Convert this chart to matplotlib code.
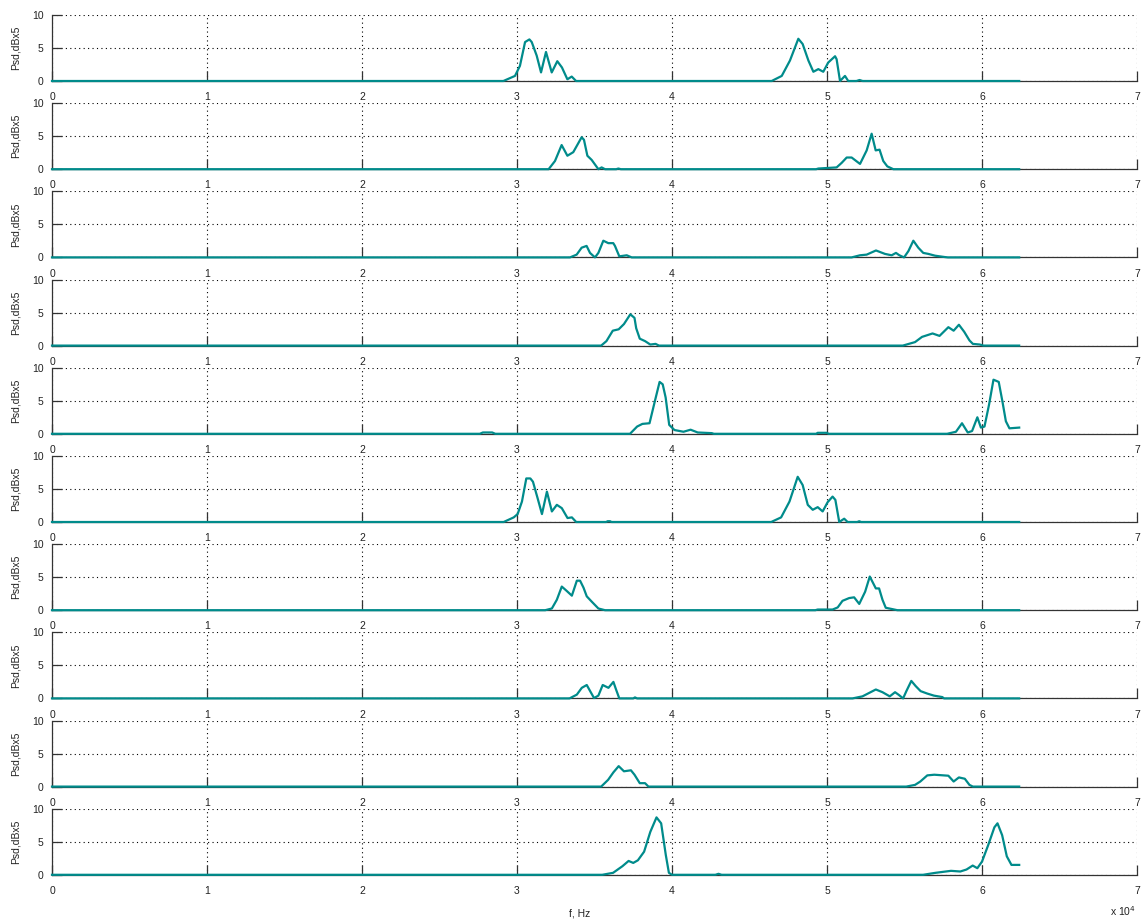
import matplotlib
matplotlib.use("Agg")
import matplotlib.pyplot as plt

# Frequency axis in units of 1e4 Hz; PSD values in dB x5.
f_max = 6.24

panel1_f = [0.0, 2.912, 2.987, 3.019, 3.052, 3.08, 3.095, 3.127, 3.155, 3.187, 3.224, 3.26, 3.29, 3.325, 3.353, 3.381,
            4.643, 4.708, 4.761, 4.815, 4.843, 4.88, 4.912, 4.944, 4.976, 5.008, 5.052, 5.062, 5.084, 5.116, 5.137,
            5.19, 5.21, 5.23, f_max]
panel1_psd = [0, 0, 0.77, 2.3, 5.9, 6.3, 5.9, 3.85, 1.3, 4.4, 1.3, 3.0, 2.05, 0.26, 0.67, 0,
              0, 0.77, 3.1, 6.4, 5.6, 3.1, 1.4, 1.8, 1.4, 2.8, 3.75, 3.3, 0, 0.77, 0,
              0, 0.15, 0, 0]

panel2_f = [0.0, 3.204, 3.245, 3.288, 3.325, 3.363, 3.417, 3.432, 3.454, 3.482, 3.525, 3.546, 3.568, 3.64, 3.654, 3.67,
            4.93, 4.944, 5.062, 5.095, 5.127, 5.159, 5.213, 5.256, 5.288, 5.314, 5.339, 5.363, 5.389, 5.428, f_max]
panel2_psd = [0, 0, 1.24, 3.66, 2.04, 2.58, 4.84, 4.46, 2.04, 1.4, 0, 0.27, 0, 0, 0.1, 0,
              0, 0.1, 0.27, 0.97, 1.77, 1.77, 0.8, 2.85, 5.38, 2.85, 2.96, 1.24, 0.43, 0, 0]

panel3_f = [0.0, 3.342, 3.385, 3.417, 3.449, 3.471, 3.503, 3.525, 3.557, 3.589, 3.621, 3.632, 3.66, 3.708, 3.74,
            5.159, 5.213, 5.256, 5.316, 5.374, 5.417, 5.445, 5.467, 5.497, 5.525, 5.557, 5.589, 5.621, 5.654,
            5.697, 5.761, 5.78, f_max]
panel3_psd = [0, 0, 0.42, 1.47, 1.74, 0.68, 0, 0.68, 2.53, 2.16, 2.16, 1.74, 0.16, 0.32, 0,
              0, 0.32, 0.42, 1.05, 0.53, 0.32, 0.68, 0.32, 0, 0.95, 2.53, 1.47, 0.68, 0.53,
              0.26, 0.05, 0, 0]

panel4_f = [0.0, 3.543, 3.577, 3.618, 3.656, 3.69, 3.731, 3.758, 3.769, 3.792, 3.826, 3.86, 3.894, 3.916,
            5.489, 5.568, 5.613, 5.681, 5.726, 5.783, 5.817, 5.851, 5.885, 5.919, 5.941, 5.986, 6.009, f_max]
panel4_psd = [0, 0, 0.68, 2.26, 2.47, 3.26, 4.74, 4.2, 2.63, 1.05, 0.68, 0.16, 0.26, 0,
              0, 0.53, 1.32, 1.84, 1.47, 2.79, 2.26, 3.16, 2.1, 0.79, 0.26, 0.16, 0, 0]

panel5_f = [0.0, 2.76, 2.78, 2.84, 2.86, 3.729, 3.775, 3.809, 3.855, 3.89, 3.92, 3.94, 3.959, 3.982, 4.016, 4.074,
            4.12, 4.166, 4.257, 4.27, 4.93, 4.94, 5.0, 5.01,
            5.775, 5.832, 5.871, 5.908, 5.936, 5.97, 5.993, 6.016, 6.046, 6.074, 6.108, 6.131, 6.154,
            6.177, f_max]
panel5_psd = [0, 0, 0.2, 0.2, 0, 0, 1.1, 1.5, 1.6, 5.0, 7.86, 7.5, 5.5, 1.35, 0.57, 0.31,
              0.62, 0.2, 0.1, 0, 0, 0.15, 0.15, 0,
              0, 0.31, 1.6, 0.2, 0.42, 2.5, 0.94, 1.1, 4.48, 8.2, 7.86, 5.0, 1.9,
              0.83, 0.94]

panel6_f = [0.0, 2.914, 2.979, 3.004, 3.032, 3.06, 3.086, 3.103, 3.133, 3.161, 3.193, 3.225, 3.257, 3.289, 3.326,
            3.354, 3.382, 3.575, 3.585, 3.6, 3.61,
            4.64, 4.704, 4.758, 4.811, 4.843, 4.876, 4.908, 4.94, 4.972, 5.004, 5.036, 5.054, 5.079, 5.111,
            5.133, 5.195, 5.208, 5.22, f_max]
panel6_psd = [0, 0, 0.7, 1.2, 3.1, 6.6, 6.6, 6.1, 3.6, 1.2, 4.6, 1.6, 2.6, 2.1, 0.6,
              0.7, 0, 0, 0.12, 0.12, 0,
              0, 0.7, 3.1, 6.85, 5.6, 2.6, 1.85, 2.25, 1.6, 3.0, 3.85, 3.35, 0, 0.5,
              0, 0, 0.12, 0, 0]

panel7_f = [0.0, 3.182, 3.225, 3.257, 3.289, 3.317, 3.354, 3.386, 3.407, 3.429, 3.45, 3.482, 3.525, 3.568,
            4.925, 4.94, 5.036, 5.069, 5.1, 5.143, 5.175, 5.208, 5.246, 5.276, 5.315, 5.336, 5.358, 5.379, 5.422,
            5.454, f_max]
panel7_psd = [0, 0, 0.26, 1.58, 3.58, 3.0, 2.2, 4.47, 4.47, 3.42, 2.1, 1.3, 0.26, 0,
              0, 0.1, 0.1, 0.42, 1.42, 1.84, 1.95, 0.95, 2.8, 5.1, 3.3, 3.3, 1.58, 0.37, 0.16,
              0, 0]

panel8_f = [0.0, 3.339, 3.386, 3.418, 3.45, 3.472, 3.497, 3.525, 3.553, 3.59, 3.622, 3.639, 3.66, 3.75, 3.761,
            3.775,
            5.165, 5.229, 5.272, 5.315, 5.358, 5.405, 5.439, 5.461, 5.491, 5.512, 5.544, 5.572, 5.604, 5.647,
            5.69, 5.744, 5.755, f_max]
panel8_psd = [0, 0, 0.57, 1.6, 2.03, 1.1, 0.05, 0.42, 2.03, 1.6, 2.5, 1.35, 0, 0, 0.15,
              0,
              0, 0.31, 0.83, 1.35, 0.94, 0.31, 0.94, 0.57, 0, 1.1, 2.65, 1.87, 1.1, 0.73,
              0.42, 0.2, 0, 0]

panel9_f = [0.0, 3.543, 3.588, 3.622, 3.656, 3.69, 3.735, 3.758, 3.792, 3.826, 3.848,
            5.511, 5.568, 5.602, 5.647, 5.692, 5.783, 5.817, 5.851, 5.889, 5.919, 5.941, f_max]
panel9_psd = [0, 0, 1.03, 2.16, 3.1, 2.32, 2.47, 1.8, 0.52, 0.52, 0,
              0, 0.26, 0.77, 1.7, 1.8, 1.65, 0.77, 1.39, 1.19, 0.26, 0, 0]

panel10_f = [0.0, 3.55, 3.62, 3.68, 3.72, 3.75, 3.78, 3.82, 3.86, 3.9, 3.93, 3.96, 3.98, 4.0, 4.28, 4.3, 4.32,
             5.62, 5.7, 5.8, 5.86, 5.9, 5.94, 5.97, 6.0, 6.04, 6.08, 6.1, 6.13, 6.16, 6.19, f_max]
panel10_psd = [0, 0, 0.3, 1.3, 2.1, 1.8, 2.2, 3.5, 6.5, 8.7, 7.8, 3.0, 0.3, 0, 0, 0.15, 0,
               0, 0.3, 0.6, 0.5, 0.8, 1.4, 1.0, 2.0, 4.5, 7.2, 7.8, 6.0, 2.8, 1.5, 1.5]

panels = [
    (panel1_f, panel1_psd), (panel2_f, panel2_psd), (panel3_f, panel3_psd),
    (panel4_f, panel4_psd), (panel5_f, panel5_psd), (panel6_f, panel6_psd),
    (panel7_f, panel7_psd), (panel8_f, panel8_psd), (panel9_f, panel9_psd),
    (panel10_f, panel10_psd),
]

x_ticks = [0, 1, 2, 3, 4, 5, 6, 7]
y_ticks = [0, 5, 10]

plt.rcParams['font.family'] = ['Liberation Sans', 'DejaVu Sans']

W, H = 1146, 922
fig = plt.figure(figsize=(W / 100, H / 100), dpi=100)

left_px, right_px = 52, 1137
top0_px, pitch_px, height_px = 15, 88.2, 66

line_color = '#008b8b'
spine_color = '#333333'

for i, (f, p) in enumerate(panels):
    top = top0_px + i * pitch_px
    ax = fig.add_axes([left_px / W, 1 - (top + height_px) / H,
                       (right_px - left_px) / W, height_px / H])
    ax.plot(f, p, color=line_color, lw=1.6, clip_on=False, zorder=3,
            solid_joinstyle='round')
    ax.set_xlim(0, 7)
    ax.set_ylim(0, 10)
    ax.set_xticks(x_ticks)
    ax.set_yticks(y_ticks)
    ax.grid(True, color='black', linestyle=(0, (1, 3)), linewidth=0.8)
    ax.set_axisbelow(True)
    for side in ('top', 'right'):
        ax.spines[side].set_visible(False)
    for side in ('left', 'bottom'):
        ax.spines[side].set_color(spine_color)
        ax.spines[side].set_linewidth(0.9)
    ax.tick_params(direction='in', length=7, width=0.9, color=spine_color,
                   labelsize=7.5, labelcolor='#222222')
    ax.tick_params(axis='x', pad=8)
    ax.tick_params(axis='y', pad=6)
    ax.set_ylabel('Psd,dBx5', fontsize=7.5, color='#222222', labelpad=8)

fig.text(580 / W, 1 - 913 / H, 'f, Hz', fontsize=7.5, color='#222222',
         ha='center', va='center')
fig.text(1110 / W, 1 - 911 / H, r'x 10$^{4}$', fontsize=7.5, color='#222222',
         ha='left', va='center')

fig.savefig('out.png', dpi=100)
